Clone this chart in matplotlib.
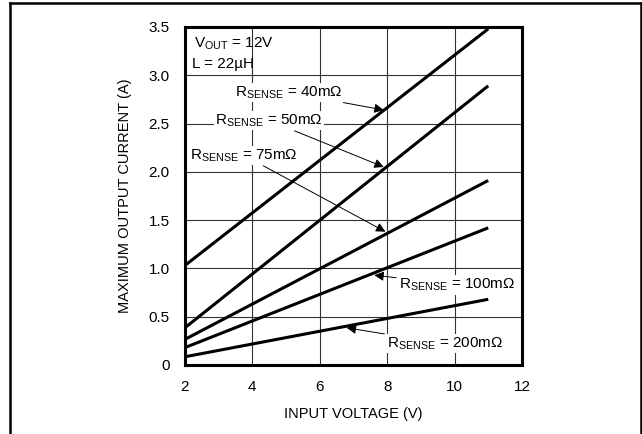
import matplotlib.pyplot as plt
import matplotlib.lines as mlines

plt.rcParams['font.family'] = ['Liberation Sans', 'DejaVu Sans']
plt.rcParams['mathtext.fontset'] = 'custom'
plt.rcParams['mathtext.rm'] = 'Liberation Sans'

# input voltage end points (lines are straight)
vin = [2, 11]

# maximum output current for each sense resistor
i_40m = [1.03, 3.48]
i_50m = [0.385, 2.89]
i_75m = [0.265, 1.91]
i_100m = [0.18, 1.42]
i_200m = [0.085, 0.68]

x_ticks = [2, 4, 6, 8, 10, 12]
y_ticks = [0, 0.5, 1.0, 1.5, 2.0, 2.5, 3.0, 3.5]
y_ticklabels = ['0', '0.5', '1.0', '1.5', '2.0', '2.5', '3.0', '3.5']

fig = plt.figure(figsize=(6.42, 4.34), dpi=100)
ax = fig.add_axes([0.288, 0.159, 0.525, 0.779])

for s in [i_40m, i_50m, i_75m, i_100m, i_200m]:
    ax.plot(vin, s, color='black', linewidth=2.2, solid_capstyle='butt', zorder=3)

ax.set_xlim(2, 12)
ax.set_ylim(0, 3.5)
ax.set_xticks(x_ticks)
ax.set_yticks(y_ticks)
ax.set_yticklabels(y_ticklabels)
ax.tick_params(length=0, labelsize=11, pad=11)
ax.grid(color='#333333', linewidth=0.8, zorder=1)
ax.set_axisbelow(True)
for sp in ax.spines.values():
    sp.set_linewidth(2.2)

ax.set_xlabel('INPUT VOLTAGE (V)', fontsize=10.5, labelpad=9)
ax.set_ylabel('MAXIMUM OUTPUT CURRENT (A)', fontsize=10.5, labelpad=12)

ax.text(2.28, 3.33, r'V$_{\mathregular{OUT}}$ = 12V', fontsize=11, va='center', ha='left')
ax.text(2.22, 3.12, 'L = 22µH', fontsize=11, va='center', ha='left')

bbox = dict(facecolor='white', edgecolor='none', pad=1)
arrow = dict(arrowstyle='-|>', color='black', lw=0.7, mutation_scale=14, shrinkA=1, shrinkB=0)

ax.annotate(r'R$_{\mathregular{SENSE}}$ = 40mΩ', xy=(7.9, 2.64), xytext=(6.68, 2.82),
            fontsize=11, ha='right', va='center', bbox=bbox, arrowprops=arrow, zorder=4)
ax.annotate(r'R$_{\mathregular{SENSE}}$ = 50mΩ', xy=(7.9, 2.05), xytext=(6.1, 2.53),
            fontsize=11, ha='right', va='center', bbox=bbox, arrowprops=arrow, zorder=4)
ax.annotate(r'R$_{\mathregular{SENSE}}$ = 75mΩ', xy=(7.95, 1.38), xytext=(5.35, 2.17),
            fontsize=11, ha='right', va='center', bbox=bbox, arrowprops=arrow, zorder=4)
ax.annotate(r'R$_{\mathregular{SENSE}}$ = 100mΩ', xy=(7.62, 0.93), xytext=(8.35, 0.83),
            fontsize=11, ha='left', va='center', bbox=bbox, arrowprops=arrow, zorder=4)
ax.annotate(r'R$_{\mathregular{SENSE}}$ = 200mΩ', xy=(6.8, 0.385), xytext=(8.0, 0.22),
            fontsize=11, ha='left', va='center', bbox=bbox, arrowprops=arrow, zorder=4)

# outer frame of the figure
fig.add_artist(mlines.Line2D([9.5 / 642, 9.5 / 642], [0, 1 - 3 / 434], color='black', lw=1.8))
fig.add_artist(mlines.Line2D([9.5 / 642, 640.5 / 642], [1 - 3 / 434, 1 - 3 / 434], color='black', lw=1.8))
fig.add_artist(mlines.Line2D([640.5 / 642, 640.5 / 642], [0, 1 - 3 / 434], color='black', lw=1.8))

plt.savefig('out.png', facecolor='white')
